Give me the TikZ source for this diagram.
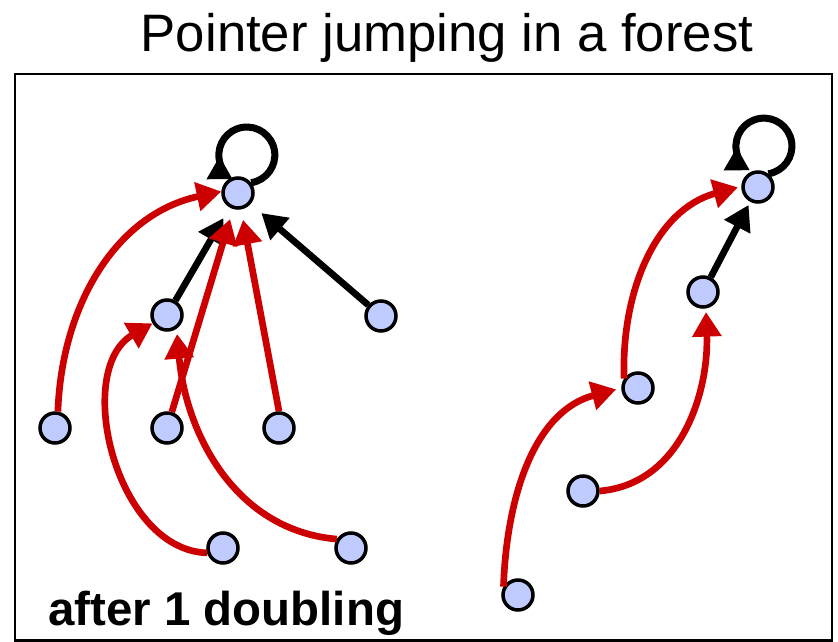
\documentclass[tikz,border=0pt]{standalone}
\usepackage{fontspec}
\setmainfont{Liberation Sans}
\usetikzlibrary{arrows.meta}
\definecolor{ptrred}{RGB}{204,0,0}
\definecolor{ptrblue}{RGB}{192,204,255}
\tikzset{
  vertex/.style={circle,draw,line width=2pt,fill=ptrblue,minimum size=0.6cm,inner sep=0pt},
  jump/.style={draw=ptrred,line width=3.8pt,-{Triangle[length=14pt,width=16pt]}},
  ptr/.style={draw=black,line width=3.8pt,-{Triangle[length=14pt,width=16pt]}},
  selfptr/.style={draw=black,line width=4pt,-{Triangle[length=13pt,width=14pt]}}
}
\begin{document}
\begin{tikzpicture}[x=0.02cm,y=0.02cm]
\useasboundingbox (0,0) rectangle (838,642);
\draw[line width=1.2pt] (15,1.5) rectangle (832,568);
\node[anchor=base,font=\fontsize{30}{36}\selectfont] (title) at (447,590) {Pointer jumping in a forest};
\node[anchor=base west,inner sep=0pt,font=\bfseries\fontsize{27}{32}\selectfont] (caption) at (48,16) {after 1 doubling};
\node[vertex] (R) at (238,449) {};
\node[vertex] (A) at (167,327) {};
\node[vertex] (B) at (381,326) {};
\node[vertex] (C1) at (55,214) {};
\node[vertex] (C2) at (167,214) {};
\node[vertex] (C3) at (279,214) {};
\node[vertex] (D1) at (223,94) {};
\node[vertex] (D2) at (351,94) {};
\node[vertex] (R2) at (758,455) {};
\node[vertex] (E) at (703,350) {};
\node[vertex] (F) at (638,254) {};
\node[vertex] (G) at (583,151) {};
\node[vertex] (H) at (518,47) {};
\foreach \r/\a in {R/38,R2/52}
  \draw[selfptr] (\r.\a) arc[start angle=-81,end angle=240,radius=28];
\draw[ptr,shorten >=7pt] (A) -- (R);
\draw[ptr,shorten >=8pt] (B) -- (R);
\draw[ptr,shorten >=2pt] (E) -- (R2);
\draw[jump] (C1.80) to[out=88,in=192] (R.175);
\draw[jump,shorten >=6pt] (C2) -- (R);
\draw[jump,shorten >=6pt] (C3.north) -- (R);
\draw[jump] (D1.197) to[out=178,in=210] (A.210);
\draw[jump,shorten >=3pt] (D2.148) to[out=175,in=-85] (A.-55);
\draw[jump,shorten >=2pt] (F.146) to[out=92,in=195] (R2.178);
\draw[jump,shorten >=2pt] (G.east) to[out=5,in=-88] (E.-80);
\draw[jump,shorten >=3pt] (H.150) to[out=88,in=195] (F.180);
\end{tikzpicture}
\end{document}
